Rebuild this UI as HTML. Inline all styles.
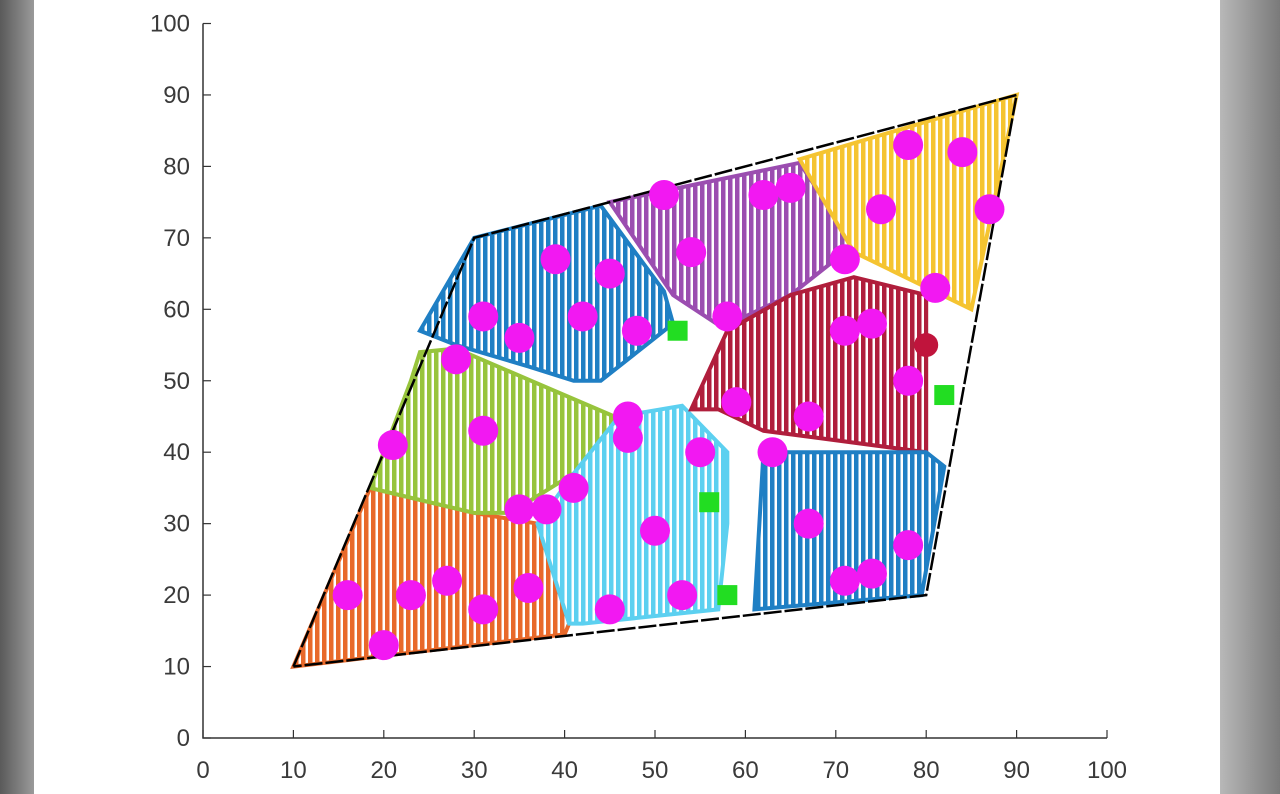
<!DOCTYPE html>
<html><head><meta charset="utf-8"><style>
body{margin:0;width:1280px;height:794px;overflow:hidden;background:#8a8a8a;font-family:"Liberation Sans",sans-serif}
svg{position:absolute;left:0;top:0}
</style></head><body>
<svg width="1280" height="794">
<defs>
<linearGradient id="lg" x1="0" x2="1"><stop offset="0" stop-color="#5a5a5a"/><stop offset="1" stop-color="#9a9a9a"/></linearGradient>
<linearGradient id="rg" x1="0" x2="1"><stop offset="0" stop-color="#b8b8b8"/><stop offset="1" stop-color="#7a7a7a"/></linearGradient>
</defs>
<rect x="0" y="0" width="34" height="794" fill="url(#lg)"/>
<rect x="1220" y="0" width="60" height="794" fill="url(#rg)"/>
<rect x="34" y="0" width="1186" height="794" fill="#ffffff"/>
<g id="regions"></g>
<g id="boundary"></g>
<g id="dots"></g>
<g id="axes"></g>
</svg>
<script>
const regionColors=["#e8692a","#97c43c","#1f7fc4","#5cd0f0","#9b4db0","#f5c431","#b01e3c","#1f7fc4"];
const regionNames=["orange","green","blue-left","light-blue","purple","yellow","red","blue-right"];
const regionPolys=[
[[10,10],[18.5,35],[30,31.5],[37,30],[38.5,27],[40.5,16],[40,14.5]],
[[18.5,35],[23,50],[24,54],[28,54.5],[45.5,45],[45.5,41],[41,37],[34,31.5],[30,31.5]],
[[24,57],[30,70],[44,74.5],[51,62.5],[52,58],[44,50],[41,50],[36,52],[28,55]],
[[37,30],[41,37],[46,45],[53,46.5],[58,40],[58,30],[57,18],[42,16],[40.5,16]],
[[45,75],[66,80.5],[72,69],[65,62],[60,59],[58,57],[52,62]],
[[66,81],[90,90],[85,60],[72,68]],
[[54,46],[58,57],[65,62],[72,64.5],[80,62],[80,40],[68,42],[62,43],[57,46]],
[[61,18],[62,40],[80,40],[82,38],[79.5,20]]
];
const boundaryPts=[[10,10],[30,70],[90,90],[80,20]];
const dotX=[16,20,23,27,31,36,21,31,28,35,38,41,47,47,55,50,53,45,31,35,39,42,45,48,54,58,51,62,65,71,75,78,84,87,81,71,74,78,59,67,63,67,71,74,78];
const dotY=[20,13,20,22,18,21,41,43,53,32,32,35,45,42,40,29,20,18,59,56,67,59,65,57,68,59,76,76,77,67,74,83,82,74,63,57,58,50,47,45,40,30,22,23,27];
const greenX=[52.5,82,56,58];
const greenY=[57,48,33,20];
const xTicks=[0,10,20,30,40,50,60,70,80,90,100];
const yTicks=[0,10,20,30,40,50,60,70,80,90,100];
const NS="http://www.w3.org/2000/svg";
const sx=v=>203+v*9.04, sy=v=>738-v*7.145;
function mk(t,a,p){const e=document.createElementNS(NS,t);for(const k in a)e.setAttribute(k,a[k]);p.appendChild(e);return e;}
const defs=document.querySelector('defs');
const rg=document.getElementById('regions');
regionPolys.forEach((poly,i)=>{
  const pat=mk('pattern',{id:'p'+i,width:7,height:10,patternUnits:'userSpaceOnUse'},defs);
  mk('rect',{x:0,y:0,width:7,height:10,fill:'#fff'},pat);
  mk('rect',{x:0,y:0,width:4.5,height:10,fill:regionColors[i]},pat);
  const pts=poly.map(p=>sx(p[0])+','+sy(p[1])).join(' ');
  const el=mk('polygon',{points:pts,fill:'url(#p'+i+')',stroke:regionColors[i],'stroke-width':4},rg);
  
  
});
const bd=document.getElementById('boundary');
const bp=boundaryPts.concat([boundaryPts[0]]).map(p=>sx(p[0])+','+sy(p[1])).join(' ');
const bl=mk('polyline',{points:bp,fill:'none',stroke:'#000','stroke-width':2.5,'stroke-dasharray':'18 3'},bd);


const dg=document.getElementById('dots');
dotX.forEach((x,i)=>{
  const c=mk('circle',{cx:sx(x),cy:sy(dotY[i]),r:15,fill:'#f218f2'},dg);
  
  
});
greenX.forEach((x,i)=>{
  const r=mk('rect',{x:sx(x)-10,y:sy(greenY[i])-10,width:20,height:20,fill:'#22dd22'},dg);
  
  
});
const dr=mk('circle',{cx:sx(80),cy:sy(55),r:12,fill:'#c0143c'},dg);


const ax=document.getElementById('axes');
const al=mk('path',{d:`M${sx(0)},${sy(100)}V${sy(0)}H${sx(100)}`,fill:'none',stroke:'#333','stroke-width':1.5},ax);


xTicks.forEach(v=>{
  mk('line',{x1:sx(v),x2:sx(v),y1:sy(0),y2:sy(0)-8,stroke:'#333','stroke-width':1.2},ax);
  const t=mk('text',{x:sx(v),y:778,'text-anchor':'middle','font-size':24,fill:'#3a3a3a'},ax);
  t.textContent=v;
  
  
});
yTicks.forEach(v=>{
  mk('line',{x1:sx(0),x2:sx(0)+8,y1:sy(v),y2:sy(v),stroke:'#333','stroke-width':1.2},ax);
  const t=mk('text',{x:190,y:sy(v)+8,'text-anchor':'end','font-size':24,fill:'#3a3a3a'},ax);
  t.textContent=v;
  
  
});
</script>
</body></html>
